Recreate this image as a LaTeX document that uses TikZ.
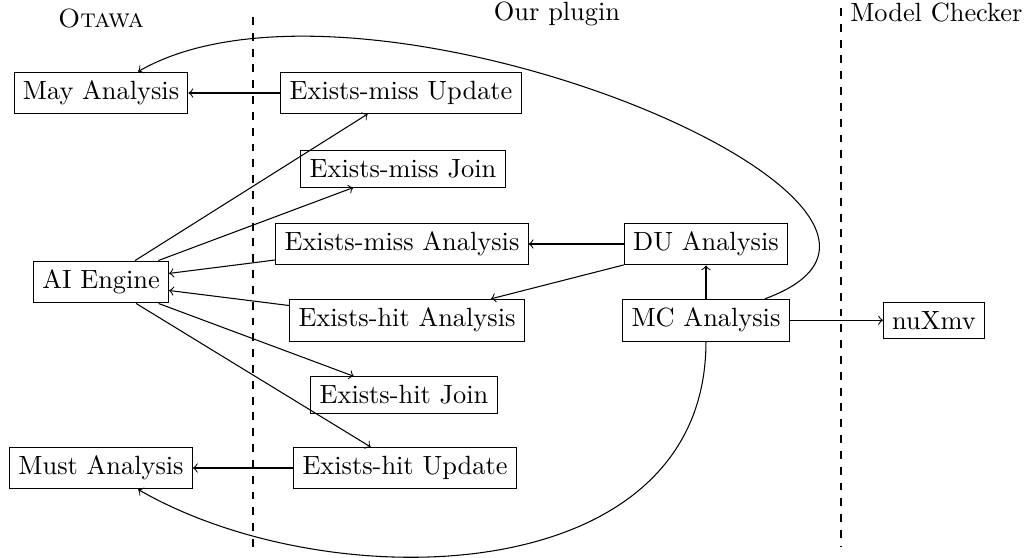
\documentclass[tikz,border=0pt]{standalone}
\begin{document}
\begin{tikzpicture}[box/.style={draw, rectangle}]
\useasboundingbox (0,0) rectangle (13.68,-7.427);

\def\xl{1.347}
\def\xr{9.413}
\def\sepa{3.373}
\def\sepb{11.213}

\node[anchor=base] (otawa) at (\xl,-0.36) {\textsc{Otawa}};
\node[anchor=base] (plugin) at (7.427,-0.267) {Our plugin};
\node[anchor=base west] (checker) at (\sepb,-0.293) {Model Checker};

\draw[dashed] (\sepa,-0.227) -- (\sepa,-7.293);
\draw[dashed] (\sepb,-0.107) -- (\sepb,-7.293);

\node[box] (may) at (\xl,-1.24) {May Analysis};
\node[box] (ai) at (\xl,-3.76) {AI Engine};
\node[box] (must) at (\xl,-6.24) {Must Analysis};

\node[box] (emu) at (5.347,-1.24) {Exists-miss Update};
\node[box] (emj) at (5.373,-2.253) {Exists-miss Join};
\node[box] (ema) at (5.36,-3.253) {Exists-miss Analysis};
\node[box] (eha) at (5.427,-4.27) {Exists-hit Analysis};
\node[box] (ehj) at (5.387,-5.267) {Exists-hit Join};
\node[box] (ehu) at (5.4,-6.24) {Exists-hit Update};

\node[box] (du) at (\xr,-3.253) {DU Analysis};
\node[box] (mc) at (\xr,-4.27) {MC Analysis};
\node[box] (nuxmv) at (12.453,-4.27) {nuXmv};

\draw[->] (emu) -- (may);
\draw[->] (ehu) -- (must);
\draw[->] (ai) -- (emu);
\draw[->] (ai) -- (emj);
\draw[->] (ema) -- (ai);
\draw[->] (eha) -- (ai);
\draw[->] (ai) -- (ehj);
\draw[->] (ai) -- (ehu);
\draw[->] (du) -- (ema);
\draw[->] (du) -- (eha);
\draw[->] (mc) -- (du);
\draw[->] (mc) -- (nuxmv);
\draw[->] (mc) to[out=20, in=30] (may);
\draw[->] (mc) to[out=-90, in=-30, out looseness=1.09, in looseness=0.96] (must);
\end{tikzpicture}
\end{document}
